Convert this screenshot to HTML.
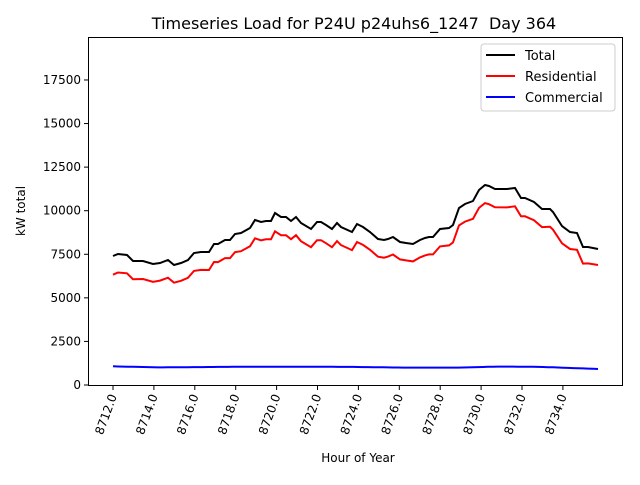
<!DOCTYPE html>
<html><head><meta charset="utf-8"><style>
body{margin:0;background:#fff;}
svg text{font-family:"DejaVu Sans","Liberation Sans",sans-serif;fill:#000;}
</style></head><body>
<svg id="s" width="640" height="480" xmlns="http://www.w3.org/2000/svg">
<rect width="640" height="480" fill="#fff"/>
<text x="354" y="29" font-size="16" text-anchor="middle" xml:space="preserve">Timeseries Load for P24U p24uhs6_1247  Day 364</text>
<g id="yt" font-size="12" text-anchor="end"></g>
<g id="xt" font-size="12" text-anchor="end"></g>
<text x="358" y="462" font-size="12" text-anchor="middle">Hour of Year</text>
<text transform="translate(25,211) rotate(-90)" font-size="12" text-anchor="middle">kW total</text>
<g id="lines"></g>
<rect x="88.5" y="37.5" width="534" height="348" fill="none" stroke="#000" stroke-width="1"/>
<rect x="481" y="44" width="134" height="67" rx="3" fill="#fff" fill-opacity="0.8" stroke="#ccc"/>
<line x1="486" y1="55" x2="515" y2="55" stroke="#000" stroke-width="2"/>
<line x1="486" y1="76" x2="515" y2="76" stroke="#f00" stroke-width="2"/>
<line x1="486" y1="97" x2="515" y2="97" stroke="#00f" stroke-width="2"/>
<text x="525" y="60" font-size="13">Total</text>
<text x="525" y="81" font-size="13">Residential</text>
<text x="525" y="102" font-size="13">Commercial</text>
</svg>
<script>
var NS="http://www.w3.org/2000/svg";
function el(p,t,a,txt){var e=document.createElementNS(NS,t);for(var k in a)e.setAttribute(k,a[k]);if(txt)e.textContent=txt;p.appendChild(e);return e;}
var yt=document.getElementById('yt');
for(var v=0;v<=17500;v+=2500){var y=385-v*0.01743;el(yt,'line',{x1:84,x2:88,y1:y,y2:y,stroke:'#000'});el(yt,'text',{x:81,y:y+4},String(v));}
var xt=document.getElementById('xt');
for(var h=8712;h<=8734;h+=2){var x=113+(h-8712)*20.45;el(xt,'line',{x1:x,x2:x,y1:386,y2:390,stroke:'#000'});el(xt,'text',{transform:'translate('+(x+4)+',396) rotate(-70)'},h+'.0');}
var T=[[111,256],[118,254],[127,255],[133,261],[143,261],[153,264],[160,263],[168,260],[174,265],[181,263],[188,260],[194,253],[201,252],[209,252],[214,244],[218,244],[225,240],[230,240],[235,234],[241,233],[250,228],[255,220],[261,222],[266,221],[271,221],[275,213],[281,217],[286,217],[291,221],[296,217],[301,223],[311,229],[317,222],[321,222],[326,225],[332,229],[337,223],[341,227],[352,232],[357,224],[363,227],[370,232],[378,239],[384,240],[388,239],[393,237],[400,242],[406,243],[413,244],[420,240],[425,238],[429,237],[433,237],[440,229],[449,228],[453,225],[459,208],[465,204],[473,201],[479,190],[485,185],[489,186],[495,189],[507,189],[515,188],[521,198],[525,198],[534,202],[542,209],[550,209],[553,212],[562,226],[570,232],[577,233],[583,247],[588,247],[598,249]];
T[0][0]=113;
var B=[[113,1070],[160,1010],[250,1050],[350,1040],[400,1000],[460,1000],[500,1060],[540,1040],[598,920]];
function bv(x){for(var i=0;i<B.length-1;i++){if(x<=B[i+1][0]){var t=(x-B[i][0])/(B[i+1][0]-B[i][0]);return B[i][1]+t*(B[i+1][1]-B[i][1]);}}return B[B.length-1][1];}
var g=document.getElementById('lines');
var bp=[],rp=[],tp=[];
for(var x=113;x<=599;x+=5){bp.push(x+','+(385-bv(x)*0.01743).toFixed(1));}
T.forEach(function(p){tp.push(p[0]+','+p[1]);rp.push(p[0]+','+(p[1]+bv(p[0])*0.01743).toFixed(1));});
el(g,'polyline',{points:tp.join(' '),fill:'none',stroke:'#000','stroke-width':2});
el(g,'polyline',{points:rp.join(' '),fill:'none',stroke:'#f00','stroke-width':2});
el(g,'polyline',{points:bp.join(' '),fill:'none',stroke:'#00f','stroke-width':2});
</script>
</body></html>
